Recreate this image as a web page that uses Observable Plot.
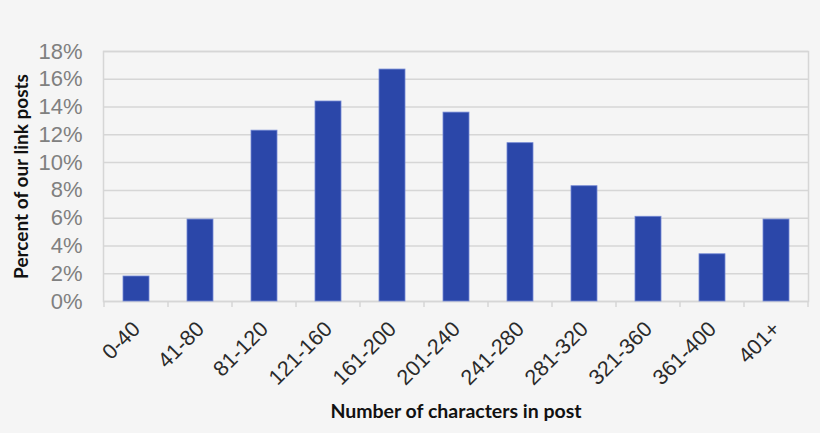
<!DOCTYPE html>
<html>
<head>
<meta charset="utf-8">
<script src="https://cdn.jsdelivr.net/npm/d3@7"></script>
<script src="https://cdn.jsdelivr.net/npm/@observablehq/plot@0.6"></script>
<style>
  html, body { margin: 0; padding: 0; background: #f5f5f5; }
  #chart svg { display: block; }
</style>
</head>
<body>
<div id="chart"></div>
<script>
const categories = ["0-40", "41-80", "81-120", "121-160", "161-200", "201-240", "241-280", "281-320", "321-360", "361-400", "401+"];
const percents = [1.8, 5.9, 12.3, 14.4, 16.7, 13.6, 11.4, 8.3, 6.1, 3.4, 5.9];
const yTicks = [0, 2, 4, 6, 8, 10, 12, 14, 16, 18];
const xTitle = "Number of characters in post";
const yTitle = "Percent of our link posts";

const data = categories.map((c, i) => ({category: c, value: percents[i]}));

const gridColor = "#d6d6d6";

function boundaryTicks(index, scales) {
  const x = scales.x, y = scales.y;
  const step = x.step(), bw = x.bandwidth();
  const y0 = y(0);
  const edges = categories.map(c => x(c) + bw / 2 - step / 2);
  edges.push(x(categories[categories.length - 1]) + bw / 2 + step / 2);
  const g = d3.create("svg:g");
  g.selectAll("line").data(edges).join("line")
    .attr("x1", d => d).attr("x2", d => d)
    .attr("y1", y0).attr("y2", y0 + 6)
    .attr("stroke", gridColor).attr("stroke-width", 1.5);
  return g.node();
}

const chart = Plot.plot({
  width: 820,
  height: 433,
  marginTop: 51,
  marginBottom: 132,
  marginLeft: 103,
  marginRight: 12,
  style: {background: "#f5f5f5", fontFamily: "'Liberation Sans', Arial, sans-serif"},
  x: {
    domain: categories,
    paddingInner: 0.6,
    paddingOuter: 0.3
  },
  y: {
    domain: [0, 18]
  },
  marks: [
    Plot.gridY(yTicks, {stroke: gridColor, strokeOpacity: 1, strokeWidth: 1.5}),
    Plot.frame({stroke: gridColor, strokeWidth: 1.5}),
    boundaryTicks,
    Plot.barY(data, {x: "category", y: "value", fill: "#2b47a9", stroke: "#7388d4", strokeWidth: 0.8}),
    Plot.axisX({
      tickSize: 0, tickRotate: -45, tickPadding: 24, fontSize: 21.5, fill: "#2a2a2a",
      label: xTitle, labelArrow: "none", labelAnchor: "center", labelOffset: 116
    }),
    Plot.axisY(yTicks, {
      tickSize: 0, tickPadding: 21, fontSize: 22, fill: "#808080",
      tickFormat: d => d + "%",
      label: yTitle, labelArrow: "none", labelAnchor: "center", labelOffset: 89
    })
  ]
});

const svg = d3.select(chart);
svg.selectAll("text").each(function () {
  const t = this.textContent.trim();
  const el = d3.select(this);
  if (t === xTitle || t === yTitle) {
    el.attr("font-family", "Lato, 'Noto Sans', sans-serif")
      .attr("font-weight", "bold")
      .attr("font-size", t === xTitle ? 19.5 : 19)
      .attr("fill", "#111");
  }
});
document.getElementById("chart").appendChild(chart);
</script>
</body>
</html>
